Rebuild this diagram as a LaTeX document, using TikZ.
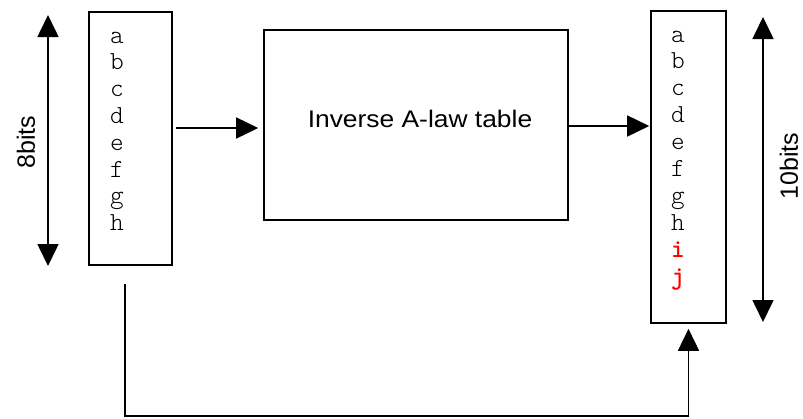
\documentclass[tikz,border=0pt]{standalone}
\usepackage{fontspec}
\setmainfont{Liberation Sans}
\newfontfamily\litemono{lmmonolt10-regular.otf}
\newfontfamily\boldmono{lmmonolt10-bold.otf}
\usepackage{graphicx}
\usetikzlibrary{arrows.meta}
\begin{document}
\begin{tikzpicture}[x=1pt,y=-1pt,
  wire/.style={line width=1.6pt},
  tip/.style={-{Triangle[length=22pt,width=21pt]}},
  twotip/.style={{Triangle[length=22pt,width=21pt]}-{Triangle[length=22pt,width=21pt]}},
  frame/.style={draw,line width=1.6pt,inner sep=0pt},
  bit/.style={font=\fontsize{26}{28}\litemono,inner sep=0pt,anchor=base},
  extrabit/.style={bit,font=\fontsize{26}{28}\boldmono,text=red},
  label/.style={font=\fontsize{25}{28}\selectfont,inner sep=0pt}
]
\useasboundingbox (0,0) rectangle (803,418);

% blocks
\node[frame,minimum width=83pt,minimum height=253pt] (inbox) at (130.5,138.5) {};
\node[frame,minimum width=304pt,minimum height=190pt] (table) at (416,125) {};
\node[frame,minimum width=75pt,minimum height=312pt] (outbox) at (688.5,167) {};

\node[font=\fontsize{24}{28}\selectfont,inner sep=0pt] (tabletext) at (420,118.5)
  {\scalebox{1.1}[1]{Inverse A-law table}};

% 8-bit input code
\foreach \c [count=\i from 0] in {a,b,c,d,e,f,g,h}
  \node[bit] (in\c) at (117,43+26.8*\i) {\c};

% 10-bit output code
\foreach \c [count=\i from 0] in {a,b,c,d,e,f,g,h}
  \node[bit] (out\c) at (678,42+26.9*\i) {\c};
\node[extrabit] (outi) at (678,42+26.9*8) {i};
\node[extrabit] (outj) at (678,42+26.9*9) {j};

% width markers
\coordinate (ltop) at (48,15);
\coordinate (lbot) at (48,266);
\coordinate (rtop) at (763,17);
\coordinate (rbot) at (763,322);
\draw[wire,twotip] (ltop) -- (lbot);
\draw[wire,twotip] (rtop) -- (rbot);
\node[label,rotate=90] (inwidth) at (26,142) {8bits};
\node[label,rotate=90] (outwidth) at (789,166) {10bits};

% data flow
\coordinate (row1) at (0,128);
\coordinate (row2) at (0,126);
\draw[wire,tip,shorten <=3pt,shorten >=5pt] (inbox.east |- row1) -- (table.west |- row1);
\draw[wire,tip,shorten >=1pt] (table.east |- row2) -- (outbox.west |- row2);

\coordinate (feedtop) at (125,284);
\coordinate (feedrow) at (0,416);
\draw[wire,tip,shorten >=5pt] (feedtop) -- (feedtop |- feedrow) -| (outbox.south);
\end{tikzpicture}
\end{document}
